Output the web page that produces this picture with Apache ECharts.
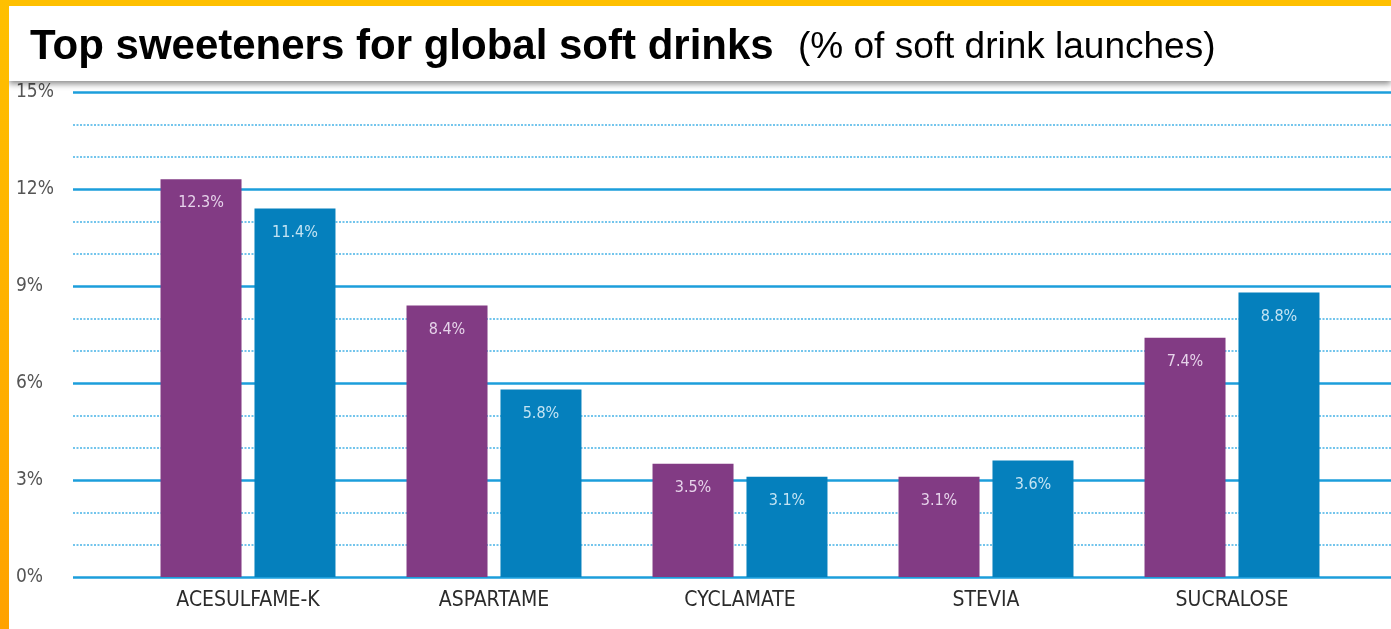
<!DOCTYPE html>
<html>
<head>
<meta charset="utf-8">
<script src="https://cdn.jsdelivr.net/npm/echarts@6/dist/echarts.min.js"></script>
<style>
  html, body { margin: 0; padding: 0; background: #fff; }
  #chart { width: 1391px; height: 629px; }
</style>
</head>
<body>
<div id="chart"></div>
<script>
const categories = ['ACESULFAME-K', 'ASPARTAME', 'CYCLAMATE', 'STEVIA', 'SUCRALOSE']
const purpleValues = [12.3, 8.4, 3.5, 3.1, 7.4]
const blueValues = [11.4, 5.8, 3.1, 3.6, 8.8]
const yTicks = [0, 3, 6, 9, 12, 15]

const condensed = "'Liberation Sans Narrow', 'DejaVu Sans Condensed', 'Roboto', sans-serif"
const purple = '#823B84'
const blue = '#0580BD'

const chart = echarts.init(document.getElementById('chart'))

const barLabel = (color) => ({
  show: true,
  position: 'insideTop',
  distance: 16,
  color: color,
  fontFamily: condensed,
  fontSize: 16,
  formatter: (p) => p.value.toFixed(1) + '%'
})

const option = {
  animation: false,
  backgroundColor: '#fff',
  grid: [
    // lines + y labels, full width
    { left: 73, right: 0, top: 92, bottom: 52 },
    // bars
    { left: 125, right: 36, top: 92, bottom: 52 }
  ],
  xAxis: [
    { gridIndex: 0, type: 'value', show: false, min: 0, max: 1 },
    {
      gridIndex: 1,
      type: 'category',
      data: categories,
      axisLine: { show: false },
      axisTick: { show: false },
      axisLabel: { color: '#2b2b2b', fontFamily: condensed, fontSize: 21, margin: 13 }
    }
  ],
  yAxis: [
    {
      gridIndex: 0,
      type: 'value',
      min: yTicks[0],
      max: yTicks[yTicks.length - 1],
      interval: 3,
      axisLine: { show: false },
      axisTick: { show: false },
      axisLabel: {
        align: 'left',
        margin: 57,
        color: '#555',
        fontFamily: condensed,
        fontSize: 19,
        formatter: '{value}%'
      },
      splitLine: { lineStyle: { color: '#1C9EDB', width: 2.5 } },
      minorTick: { show: false, splitNumber: 3 },
      minorSplitLine: { show: true, lineStyle: { color: '#45B2E6', width: 1.5, type: [2, 1.5] } }
    },
    {
      gridIndex: 1,
      type: 'value',
      min: yTicks[0],
      max: yTicks[yTicks.length - 1],
      show: false,
      splitLine: { show: false }
    }
  ],
  series: [
    {
      type: 'bar',
      xAxisIndex: 1,
      yAxisIndex: 1,
      data: purpleValues,
      barWidth: 81,
      barGap: '16%',
      itemStyle: { color: purple },
      label: barLabel('#E6D3EA')
    },
    {
      type: 'bar',
      xAxisIndex: 1,
      yAxisIndex: 1,
      data: blueValues,
      barWidth: 81,
      barGap: '16%',
      itemStyle: { color: blue },
      label: barLabel('#C3E3F3')
    }
  ],
  graphic: [
    // frame
    {
      type: 'rect', z: 100,
      shape: { x: 0, y: 0, width: 1391, height: 6 },
      style: { fill: '#FFC000' }
    },
    {
      type: 'rect', z: 100,
      shape: { x: 0, y: 0, width: 9, height: 629 },
      style: {
        fill: new echarts.graphic.LinearGradient(0, 0, 0, 1, [
          { offset: 0, color: '#FFC000' },
          { offset: 1, color: '#FFA200' }
        ])
      }
    },
    // title box
    {
      type: 'rect', z: 99,
      shape: { x: 9, y: 6, width: 1382, height: 75 },
      style: { fill: '#fff', shadowBlur: 6, shadowOffsetY: 3, shadowColor: 'rgba(0,0,0,0.45)' }
    },
    {
      type: 'text', z: 101,
      x: 30, y: 47,
      style: {
        text: 'Top sweeteners for global soft drinks',
        fill: '#000',
        font: "bold 42px 'Liberation Sans', Arial, sans-serif",
        verticalAlign: 'middle'
      }
    },
    {
      type: 'text', z: 101,
      x: 798, y: 48,
      style: {
        text: '(% of soft drink launches)',
        fill: '#000',
        font: "37px 'Liberation Sans', Arial, sans-serif",
        verticalAlign: 'middle'
      }
    }
  ]
}

chart.setOption(option)
</script>
</body>
</html>
